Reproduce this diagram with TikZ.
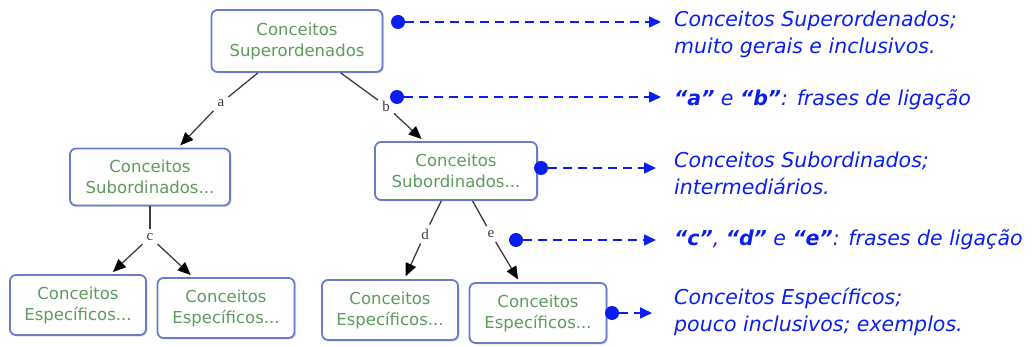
\documentclass[tikz,border=0pt]{standalone}
\usepackage{fontspec}
\newfontfamily\notefont{DejaVu Sans}
\newfontfamily\boxfont{DejaVu Sans}
\newfontfamily\linkfont{Liberation Serif}
\usetikzlibrary{arrows.meta,shadows}
\definecolor{boxedge}{RGB}{104,124,204}
\definecolor{boxtext}{RGB}{92,156,92}
\definecolor{noteblue}{RGB}{10,30,240}
\definecolor{linkgray}{RGB}{60,60,60}
\tikzset{
  concept/.style={draw=boxedge, line width=1.8pt, rounded corners=6pt, fill=white,
    align=center, text=boxtext, font=\boxfont\fontsize{16.5}{21}\selectfont,
    inner sep=0pt, drop shadow={shadow xshift=1.5pt, shadow yshift=-1.5pt, opacity=0.25, fill=gray}},
  linkword/.style={text=linkgray, font=\linkfont\fontsize{15}{15}\selectfont, inner sep=4pt},
  link/.style={draw=linkgray, line width=1.3pt},
  linkarrow/.style={link, -{Triangle[length=13pt,width=11pt,color=black,fill=black]}, shorten >=3pt},
  dot/.style={circle, fill=noteblue, minimum size=14pt, inner sep=0pt},
  note/.style={text=noteblue, font=\notefont\itshape\fontsize{20.5}{27}\selectfont,
    align=left, anchor=north west, inner sep=0pt},
  notearrow/.style={draw=noteblue, line width=1.6pt, dash pattern=on 9pt off 6pt,
    -{Triangle[length=12pt,width=11pt]}}
}
\begin{document}
\begin{tikzpicture}[x=1pt,y=-1pt]
\useasboundingbox (0,0) rectangle (1035,347);

% concept boxes
\node[concept, minimum width=171pt, minimum height=62pt] (top) at (297,41) {Conceitos\\Superordenados};
\node[concept, minimum width=160pt, minimum height=57pt] (subL) at (150,177) {Conceitos\\Subordinados...};
\node[concept, minimum width=162pt, minimum height=58pt] (subR) at (456,171) {Conceitos\\Subordinados...};
\node[concept, minimum width=136pt, minimum height=60pt] (spA) at (78,305) {Conceitos\\Específicos...};
\node[concept, minimum width=137pt, minimum height=60pt] (spB) at (226,308) {Conceitos\\Específicos...};
\node[concept, minimum width=136pt, minimum height=60pt] (spC) at (390,310) {Conceitos\\Específicos...};
\node[concept, minimum width=137pt, minimum height=60pt] (spD) at (538,313) {Conceitos\\Específicos...};

% linking words
\node[linkword] (la) at (221,103) {a};
\node[linkword] (lb) at (386,106) {b};
\node[linkword] (lc) at (150,237) {c};
\node[linkword] (ld) at (425,234) {d};
\node[linkword] (le) at (491,234) {e};

% propositions
\draw[link] (top) -- (la);
\draw[linkarrow] (la) -- (subL);
\draw[link] (top) -- (lb);
\draw[linkarrow] (lb) -- (subR);
\draw[link] (subL) -- (lc);
\draw[linkarrow] (lc) -- (spA);
\draw[linkarrow] (lc) -- (spB);
\draw[link] (subR) -- (ld);
\draw[linkarrow] (ld) -- (spC);
\draw[link] (subR) -- (le);
\draw[linkarrow] (le) -- (spD);

% explanatory notes
\node[dot] (d1) at (398,22) {};
\node[dot] (d2) at (397,97) {};
\node[dot] (d3) at (541,168) {};
\node[dot] (d4) at (516,240) {};
\node[dot] (d5) at (612,313) {};
\coordinate (e1) at (661,22);
\coordinate (e2) at (661,97);
\coordinate (e3) at (656,168);
\coordinate (e4) at (656,240);
\coordinate (e5) at (652,313);
\draw[notearrow] (d1) -- (e1);
\draw[notearrow] (d2) -- (e2);
\draw[notearrow] (d3) -- (e3);
\draw[notearrow] (d4) -- (e4);
\draw[notearrow] (d5) -- (e5);

\node[note] (n1) at (674,11) {Conceitos Superordenados;\\muito gerais e inclusivos.};
\node[note] (n2) at (674,89) {\textbf{“a”} e \textbf{“b”}: frases de ligação};
\node[note] (n3) at (674,152) {Conceitos Subordinados;\\intermediários.};
\node[note] (n4) at (674,229) {\textbf{“c”}, \textbf{“d”} e \textbf{“e”}: frases de ligação};
\node[note] (n5) at (674,288) {Conceitos Específicos;\\pouco inclusivos; exemplos.};
\end{tikzpicture}
\end{document}
